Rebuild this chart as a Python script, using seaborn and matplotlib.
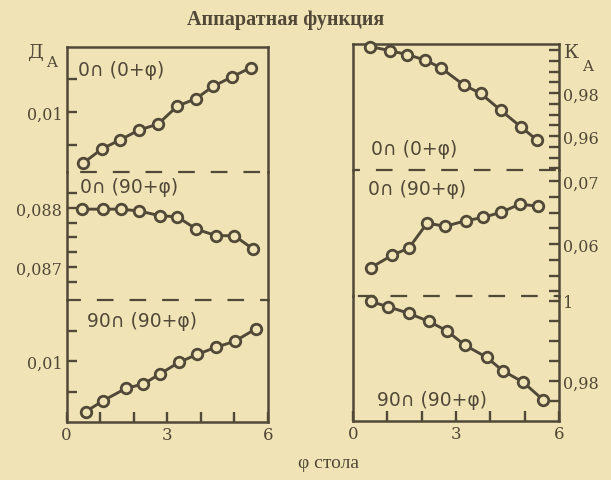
import matplotlib
matplotlib.use("Agg")
import matplotlib.pyplot as plt
import seaborn as sns

# ---- data -------------------------------------------------------------
# left column: Д_A versus table angle φ
phi_d_00 = [0.50, 1.05, 1.59, 2.16, 2.73, 3.30, 3.85, 4.37, 4.92, 5.48]
d_00 = [0.00227, 0.0044, 0.00576, 0.00727, 0.00818, 0.0109, 0.0120, 0.0139, 0.0153, 0.0167]

phi_d_090 = [0.45, 1.09, 1.61, 2.16, 2.77, 3.30, 3.87, 4.46, 5.00, 5.54]
d_090 = [0.08798, 0.08798, 0.08798, 0.08795, 0.08787, 0.08785, 0.08764, 0.08753, 0.08753, 0.08731]

phi_d_9090 = [0.57, 1.09, 1.77, 2.29, 2.78, 3.35, 3.90, 4.45, 5.01, 5.63]
d_9090 = [0.00169, 0.00349, 0.00552, 0.00623, 0.00787, 0.00979, 0.0111, 0.01225, 0.01323, 0.01525]

# right column: К_A versus table angle φ
phi_k_00 = [0.50, 1.08, 1.57, 2.11, 2.57, 3.23, 3.72, 4.30, 4.88, 5.36]
k_00 = [1.0016, 0.9997, 0.9979, 0.9953, 0.9916, 0.9837, 0.9798, 0.9720, 0.9644, 0.9581]

phi_k_090 = [0.51, 1.15, 1.63, 2.16, 2.68, 3.29, 3.80, 4.31, 4.87, 5.38]
k_090 = [0.05622, 0.05825, 0.05937, 0.06333, 0.06281, 0.0637, 0.06424, 0.06503, 0.06635, 0.06598]

phi_k_9090 = [0.51, 1.03, 1.64, 2.21, 2.73, 3.25, 3.89, 4.36, 4.96, 5.53]
k_9090 = [0.99988, 0.99855, 0.99688, 0.99488, 0.99258, 0.98900, 0.98593, 0.98258, 0.97968, 0.97533]

labels_00 = "0∩ (0+φ)"
labels_090 = "0∩ (90+φ)"
labels_9090 = "90∩ (90+φ)"

x_ticks = [0, 1, 2, 3, 4, 5, 6]
x_ticklabels = ["0", "", "", "3", "", "", "6"]

yt_d_top = [0.005, 0.01, 0.015]
yl_d_top = ["", "0,01", ""]
yt_d_mid = [0.08825, 0.088, 0.08775, 0.0875, 0.08725, 0.087, 0.08675]
yl_d_mid = ["", "0,088", "", "", "", "0,087", ""]
yt_d_bot = [0.005, 0.01, 0.015]
yl_d_bot = ["", "0,01", ""]

yt_k_top = [0.945, 0.95, 0.955, 0.96, 0.965, 0.97, 0.975, 0.98, 0.985, 0.99, 0.995, 1.0]
yl_k_top = ["", "", "", "0,96", "", "", "", "0,98", "", "", "", ""]
yt_k_mid = [0.0525, 0.055, 0.0575, 0.06, 0.0625, 0.065, 0.0675, 0.07]
yl_k_mid = ["", "", "", "0,06", "", "", "", "0,07"]
yt_k_bot = [0.975, 0.98, 0.985, 0.99, 0.995, 1.0]
yl_k_bot = ["", "0,98", "", "", "", "1"]

title = "Аппаратная функция"
xlabel = "φ стола"

# ---- style ------------------------------------------------------------
BG = "#f0e4b6"
INK = "#524838"

sns.set_style("ticks")
plt.rcParams["font.family"] = ["Liberation Serif", "DejaVu Serif"]
plt.rcParams["text.color"] = INK
plt.rcParams["axes.edgecolor"] = INK
plt.rcParams["xtick.color"] = INK
plt.rcParams["ytick.color"] = INK
plt.rcParams["xtick.labelcolor"] = INK
plt.rcParams["ytick.labelcolor"] = INK
plt.rcParams["lines.scale_dashes"] = False

W, H = 611, 481
fig = plt.figure(figsize=(W / 100, H / 100), dpi=100, facecolor=BG)

FS_TICK = 11.5
TICK_FONT = ["DejaVu Serif"]
FS_LAB = 13.5
LAB_FONT = ["DejaVu Sans"]


def make_axes(x0, x1, y_top, y_bot):
    ax = fig.add_axes([x0 / W, 1 - y_bot / H, (x1 - x0) / W, (y_bot - y_top) / H])
    ax.set_facecolor("none")
    for s in ax.spines.values():
        s.set_linewidth(1.8)
        s.set_color(INK)
    return ax


def draw_series(ax, x, y):
    sns.lineplot(x=x, y=y, ax=ax, color=INK, linewidth=2.1, marker="o",
                 markersize=7.6, markerfacecolor=BG, markeredgecolor=INK,
                 markeredgewidth=2.0, clip_on=False, zorder=5)


def dashed(ax, offset):
    ax.axhline(ax.get_ylim()[0], color=INK, linewidth=1.6,
               linestyle=(offset, (12, 11.5)), dash_capstyle="butt",
               clip_on=False, zorder=2)


def setup(ax, xlim, ylim, yticks, ylabels, side, top, bottom):
    ax.set_xlim(*xlim)
    ax.set_ylim(*ylim)
    ax.spines["top"].set_visible(top)
    ax.spines["bottom"].set_visible(bottom)
    ax.set_yticks(yticks)
    ax.set_yticklabels(ylabels, fontsize=FS_TICK, family=TICK_FONT)
    if side == "right":
        ax.yaxis.tick_right()
    ax.tick_params(axis="y", direction="in", length=7, width=1.7, pad=3)
    if bottom:
        ax.set_xticks(x_ticks)
        ax.set_xticklabels(x_ticklabels, fontsize=FS_TICK + 0.5, family=TICK_FONT)
        ax.tick_params(axis="x", direction="in", length=7, width=1.7, pad=3)
    else:
        ax.set_xticks([])
    ax.set_xlabel("")
    ax.set_ylabel("")


# ---- left column ------------------------------------------------------
LX0, LX1 = 66.5, 268
ax_l1 = make_axes(LX0, LX1, 48, 173)
ax_l2 = make_axes(LX0, LX1, 173, 301)
ax_l3 = make_axes(LX0, LX1, 301, 423)

draw_series(ax_l1, phi_d_00, d_00)
draw_series(ax_l2, phi_d_090, d_090)
draw_series(ax_l3, phi_d_9090, d_9090)

setup(ax_l1, (0, 6), (0.00091, 0.01985), yt_d_top, yl_d_top, "left", True, False)
setup(ax_l2, (0, 6), (0.08644, 0.08861), yt_d_mid, yl_d_mid, "left", False, False)
setup(ax_l3, (0, 6), (0.0, 0.02), yt_d_bot, yl_d_bot, "left", False, True)
dashed(ax_l1, 14)
dashed(ax_l2, 2)

ax_l1.text(0.057, 0.824, labels_00, transform=ax_l1.transAxes, fontsize=FS_LAB,
           family=LAB_FONT, ha="left", va="center")
ax_l2.text(0.067, 0.883, labels_090, transform=ax_l2.transAxes, fontsize=FS_LAB,
           family=LAB_FONT, ha="left", va="center")
ax_l3.text(0.10, 0.828, labels_9090, transform=ax_l3.transAxes, fontsize=FS_LAB,
           family=LAB_FONT, ha="left", va="center")

# ---- right column -----------------------------------------------------
RX0, RX1 = 353, 559
ax_r1 = make_axes(RX0, RX1, 45, 171)
ax_r2 = make_axes(RX0, RX1, 171, 297)
ax_r3 = make_axes(RX0, RX1, 297, 422)

draw_series(ax_r1, phi_k_00, k_00)
draw_series(ax_r2, phi_k_090, k_090)
draw_series(ax_r3, phi_k_9090, k_9090)

setup(ax_r1, (0, 6), (0.9442, 1.0028), yt_k_top, yl_k_top, "right", True, False)
setup(ax_r2, (0, 6), (0.05175, 0.07175), yt_k_mid, yl_k_mid, "right", False, False)
setup(ax_r3, (0, 6), (0.97, 1.00125), yt_k_bot, yl_k_bot, "right", False, True)
dashed(ax_r1, 7)
dashed(ax_r2, 20)

ax_r1.text(0.087, 0.167, labels_00, transform=ax_r1.transAxes, fontsize=FS_LAB,
           family=LAB_FONT, ha="left", va="center")
ax_r2.text(0.073, 0.857, labels_090, transform=ax_r2.transAxes, fontsize=FS_LAB,
           family=LAB_FONT, ha="left", va="center")
ax_r3.text(0.117, 0.176, labels_9090, transform=ax_r3.transAxes, fontsize=FS_LAB,
           family=LAB_FONT, ha="left", va="center")

# ---- axis names and title --------------------------------------------
fig.text(36 / W, 1 - 53 / H, "Д", fontsize=14, family=TICK_FONT, ha="center", va="center")
fig.text(52 / W, 1 - 63 / H, "A", fontsize=11, family=TICK_FONT, ha="center", va="center")
fig.text(571 / W, 1 - 53 / H, "К", fontsize=14, family=TICK_FONT, ha="center", va="center")
fig.text(588 / W, 1 - 67 / H, "A", fontsize=11, family=TICK_FONT, ha="center", va="center")

fig.text(286 / W, 1 - 20 / H, title, fontsize=14.5, fontweight="bold",
         ha="center", va="center")
fig.text(329 / W, 1 - 464 / H, xlabel, fontsize=14, ha="center", va="center")

fig.savefig("out.png", dpi=100, facecolor=BG)
